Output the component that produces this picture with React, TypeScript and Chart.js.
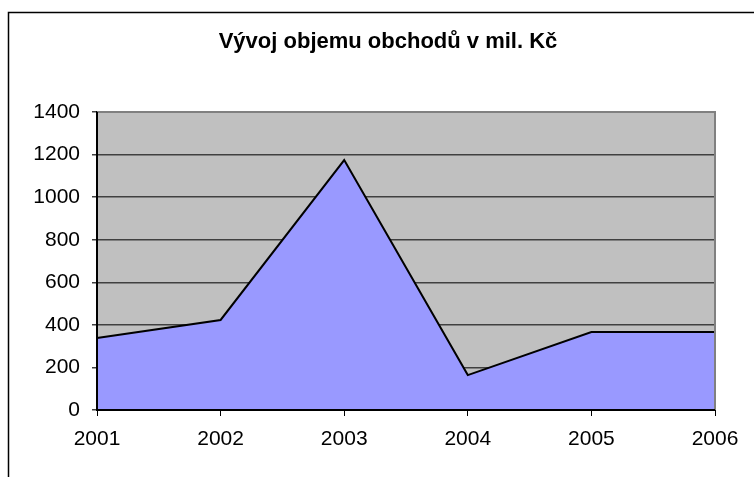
import React, { useEffect, useRef } from "react";
import { Chart, registerables } from "chart.js";

Chart.register(...registerables);

const titleText = "Vývoj objemu obchodů v mil. Kč";
const years = ["2001", "2002", "2003", "2004", "2005", "2006"];
const volumes = [338, 423, 1174, 164, 366, 366];
const yMin = 0;
const yMax = 1400;
const yStep = 200;

const FONT = "'Liberation Sans', Arial, sans-serif";

const decorPlugin = {
  id: "decor",
  beforeDraw(chart: any) {
    const { ctx, chartArea } = chart;
    ctx.save();
    ctx.fillStyle = "#ffffff";
    ctx.fillRect(0, 0, chart.width, chart.height);
    ctx.strokeStyle = "#000000";
    ctx.lineWidth = 1.5;
    ctx.strokeRect(8.5, 12.5, chart.width + 20, chart.height + 20);
    ctx.fillStyle = "#c0c0c0";
    ctx.fillRect(chartArea.left, chartArea.top, chartArea.right - chartArea.left, chartArea.bottom - chartArea.top);
    ctx.fillStyle = "#000000";
    ctx.font = `bold 22px ${FONT}`;
    ctx.textAlign = "center";
    ctx.textBaseline = "alphabetic";
    ctx.fillText(titleText, 388, 48);
    ctx.restore();
  },
  afterDatasetsDraw(chart: any) {
    const { ctx, chartArea } = chart;
    const meta = chart.getDatasetMeta(0);
    const last = meta.data[meta.data.length - 1];
    ctx.save();
    ctx.strokeStyle = "#000000";
    ctx.lineWidth = 2;
    ctx.beginPath();
    ctx.moveTo(last.x, last.y);
    ctx.lineTo(last.x, chartArea.bottom);
    ctx.stroke();
    ctx.strokeStyle = "#808080";
    ctx.lineWidth = 2;
    ctx.beginPath();
    ctx.moveTo(chartArea.left, chartArea.top);
    ctx.lineTo(chartArea.right, chartArea.top);
    ctx.lineTo(chartArea.right, chartArea.bottom);
    ctx.stroke();
    ctx.strokeStyle = "#000000";
    ctx.lineWidth = 2;
    ctx.beginPath();
    ctx.moveTo(chartArea.left, chartArea.top);
    ctx.lineTo(chartArea.left, chartArea.bottom);
    ctx.lineTo(chartArea.right, chartArea.bottom);
    ctx.stroke();
    ctx.restore();
  },
};

export default function App() {
  const ref = useRef<HTMLCanvasElement>(null);
  useEffect(() => {
    if (!ref.current) return;
    const chart = new Chart(ref.current, {
      type: "line",
      data: {
        labels: years,
        datasets: [
          {
            data: volumes,
            borderColor: "#000000",
            borderWidth: 2,
            backgroundColor: "#9999ff",
            fill: "origin",
            pointRadius: 0,
            tension: 0,
          },
        ],
      },
      options: {
        animation: false,
        responsive: false,
        maintainAspectRatio: false,
        layout: { padding: { top: 112, right: 39, left: 0, bottom: 0 } },
        plugins: {
          legend: { display: false },
          title: { display: false },
          tooltip: { enabled: false },
        },
        scales: {
          x: {
            offset: false,
            grid: {
              drawOnChartArea: false,
              drawTicks: true,
              tickLength: 6,
              color: "#000000",
              lineWidth: 1,
            },
            border: { display: true, color: "#000000", width: 2 },
            ticks: {
              color: "#000000",
              font: { family: FONT, size: 21 },
              padding: 11,
              maxRotation: 0,
              autoSkip: false,
            },
            afterFit(scale: any) {
              scale.height = 67;
            },
          },
          y: {
            min: yMin,
            max: yMax,
            grid: {
              color: "#404040",
              lineWidth: 1.5,
              drawTicks: true,
              tickLength: 5,
            },
            border: { display: true, color: "#000000", width: 2 },
            ticks: {
              stepSize: yStep,
              color: "#000000",
              font: { family: FONT, size: 21 },
              padding: 12,
              callback: (v: any) => String(v),
            },
            afterFit(scale: any) {
              scale.width = 97;
            },
          },
        },
      },
      plugins: [decorPlugin],
    });
    return () => chart.destroy();
  }, []);
  return (
    <div style={{ position: "absolute", left: 0, top: 0, width: 754, height: 477 }}>
      <canvas ref={ref} width={754} height={477} style={{ display: "block" }} />
    </div>
  );
}
